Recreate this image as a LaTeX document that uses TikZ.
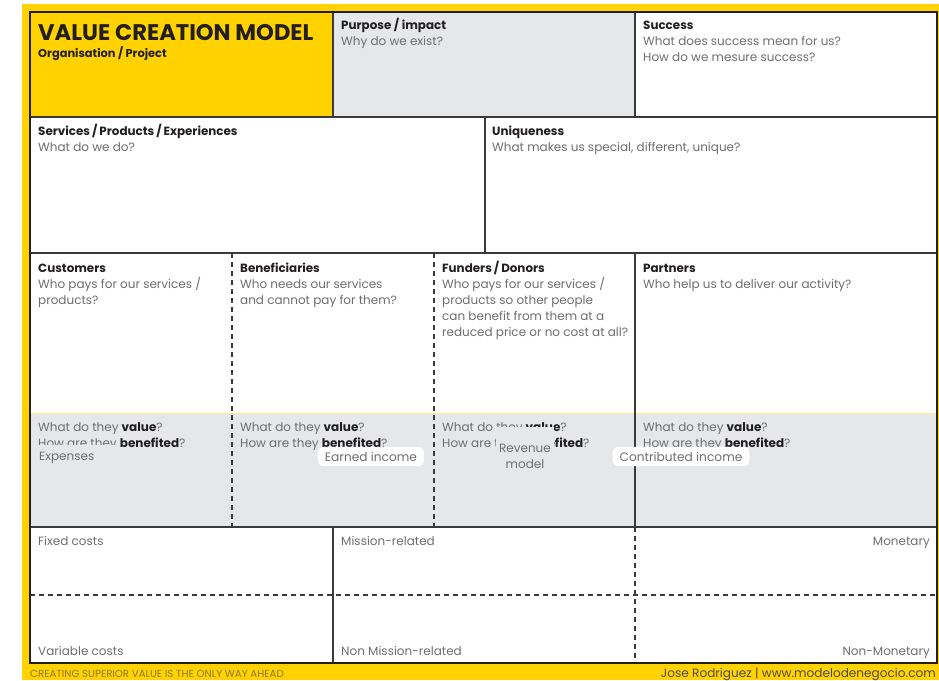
\documentclass[tikz,border=0pt]{standalone}
\usepackage{fontspec}
\setmainfont{Poppins}
\definecolor{ylw}{HTML}{FFD200}
\definecolor{gfill}{HTML}{E6E7E8}
\definecolor{txtg}{HTML}{6D6E71}
\definecolor{dark}{HTML}{231F20}
\definecolor{lnc}{HTML}{3A3A3A}
\definecolor{olive}{HTML}{8C7A1E}
\definecolor{foot}{HTML}{4D4D4D}
\tikzset{
  hd/.style={anchor=base west, inner sep=0pt, font=\fontsize{11.9}{14}\selectfont\bfseries, text=dark},
  bd/.style={anchor=base west, inner sep=0pt, font=\fontsize{12}{15}\selectfont, text=txtg},
  bdr/.style={anchor=base east, inner sep=0pt, font=\fontsize{12}{15}\selectfont, text=txtg},
  solidline/.style={draw=lnc, line width=1.4pt},
  dashline/.style={draw=lnc, line width=1.3pt, dash pattern=on 5pt off 4pt},
  pill/.style={fill=white, rounded corners=6pt, inner xsep=7pt, inner ysep=5pt, font=\fontsize{12.2}{15}\selectfont, text=txtg},
}
\begin{document}
\begin{tikzpicture}[x=1pt,y=-1pt]
\useasboundingbox (0,0) rectangle (939,680);
% background
\fill[ylw] (22,4) rectangle (939,680);
\fill[white] (30,12) rectangle (937,663);
\fill[ylw] (30,12) rectangle (333,117);
\fill[gfill] (333,12) rectangle (635,117);
\fill[gfill] (30,413) rectangle (937,527);
\draw[ylw!45, line width=0.6pt] (30,413) -- (937,413);
% grid lines
\coordinate (tl) at (30,12);
\coordinate (br) at (937,663);
\draw[solidline] (30,117) -- (937,117);
\draw[solidline] (30,253) -- (937,253);
\draw[solidline] (30,527) -- (937,527);
\draw[solidline] (333,12) -- (333,117);
\draw[solidline] (635,12) -- (635,117);
\draw[solidline] (485,117) -- (485,253);
\draw[solidline] (635,253) -- (635,527);
\draw[solidline] (333,527) -- (333,663);
\draw[dashline] (232,253) -- (232,527);
\draw[dashline] (434,253) -- (434,527);
\draw[dashline] (635,527) -- (635,663);
\draw[dashline] (30,595) -- (937,595);
\draw[draw=dark, line width=2.4pt] (tl) rectangle (br);
% title
\node[anchor=base west, inner sep=0pt, font=\fontsize{22.6}{26}\selectfont\bfseries, text=dark] (title) at (38,40) {VALUE CREATION MODEL};
\node[hd, font=\fontsize{11.4}{14}\selectfont\bfseries] (org) at (38,57) {Organisation / Project};
% purpose
\node[hd] (purp) at (341,29) {Purpose / impact};
\node[bd] (purp1) at (341,45) {Why do we exist?};
% success
\node[hd] (succ) at (643,29) {Success};
\node[bd] (succ1) at (643,45) {What does success mean for us?};
\node[bd] (succ2) at (643,61) {How do we mesure success?};
% services
\node[hd] (serv) at (38,135) {Services\,/\,Products\,/\,Experiences};
\node[bd] (serv1) at (38,151) {What do we do?};
% uniqueness
\node[hd] (uniq) at (492,135) {Uniqueness};
\node[bd] (uniq1) at (492,151) {What makes us special, different, unique?};
% customers
\node[hd] (cust) at (38,272) {Customers};
\node[bd] (cust1) at (38,288) {Who pays for our services /};
\node[bd] (cust2) at (38,304) {products?};
% beneficiaries
\node[hd] (bene) at (240,272) {Beneficiaries};
\node[bd] (bene1) at (240,288) {Who needs our services};
\node[bd] (bene2) at (240,304) {and cannot pay for them?};
% funders
\node[hd] (fund) at (442,272) {Funders\,/\,Donors};
\node[bd] (fund1) at (442,288) {Who pays for our services /};
\node[bd] (fund2) at (442,304) {products so other people};
\node[bd] (fund3) at (442,320) {can benefit from them at a};
\node[bd] (fund4) at (442,336) {reduced price or no cost at all?};
% partners
\node[hd] (part) at (643,272) {Partners};
\node[bd] (part1) at (643,288) {Who help us to deliver our activity?};
% value rows
\node[bd] (va) at (38,431) {What do they \textbf{\color{dark}value}?};
\node[bd] (ba) at (38,447) {How are they \textbf{\color{dark}benefited}?};
\node[bd] (vb) at (240,431) {What do they \textbf{\color{dark}value}?};
\node[bd] (bb) at (240,447) {How are they \textbf{\color{dark}benefited}?};
\node[bd] (vc) at (442,431) {What do they \textbf{\color{dark}value}?};
\node[bd] (bc) at (442,447) {How are they \textbf{\color{dark}benefited}?};
\node[bd] (vd) at (643,431) {What do they \textbf{\color{dark}value}?};
\node[bd] (bd) at (643,447) {How are they \textbf{\color{dark}benefited}?};
% overlays
\node[fill=gfill, anchor=north west, minimum width=86pt, minimum height=26pt, text width=72pt, inner xsep=7pt, inner ysep=0pt, align=left, font=\fontsize{12}{15}\selectfont, text=txtg, yshift=-1pt] (exp) at (32,444) {Expenses};
\node[pill] (earn) at (371,456.5) {Earned income};
\node[fill=gfill, anchor=north, minimum width=58pt, minimum height=52pt, inner sep=0pt] (revbox) at (525,427) {};
\node[anchor=base, inner sep=0pt, align=center, font=\fontsize{12}{16}\selectfont, text=txtg] (rev) at (525,468) {Revenue\\model};
\node[pill] (contr) at (681,456.5) {Contributed income};
% bottom
\node[bd] (fix) at (38,545) {Fixed costs};
\node[bd] (var) at (38,655) {Variable costs};
\node[bd] (mis) at (341,545) {Mission-related};
\node[bd] (nmis) at (341,655) {Non Mission-related};
\node[bdr] (mon) at (930,545) {Monetary};
\node[bdr] (nmon) at (930,655) {Non-Monetary};
% footer
\node[anchor=base west, inner sep=0pt, font=\fontsize{10.2}{12}\selectfont, text=olive] (fl) at (30,677) {CREATING SUPERIOR VALUE IS THE ONLY WAY AHEAD};
\node[anchor=base east, inner sep=0pt, font=\fontsize{12.1}{14}\selectfont, text=foot] (fr) at (936,677) {Jose Rodriguez | www.modelodenegocio.com};
\end{tikzpicture}
\end{document}
